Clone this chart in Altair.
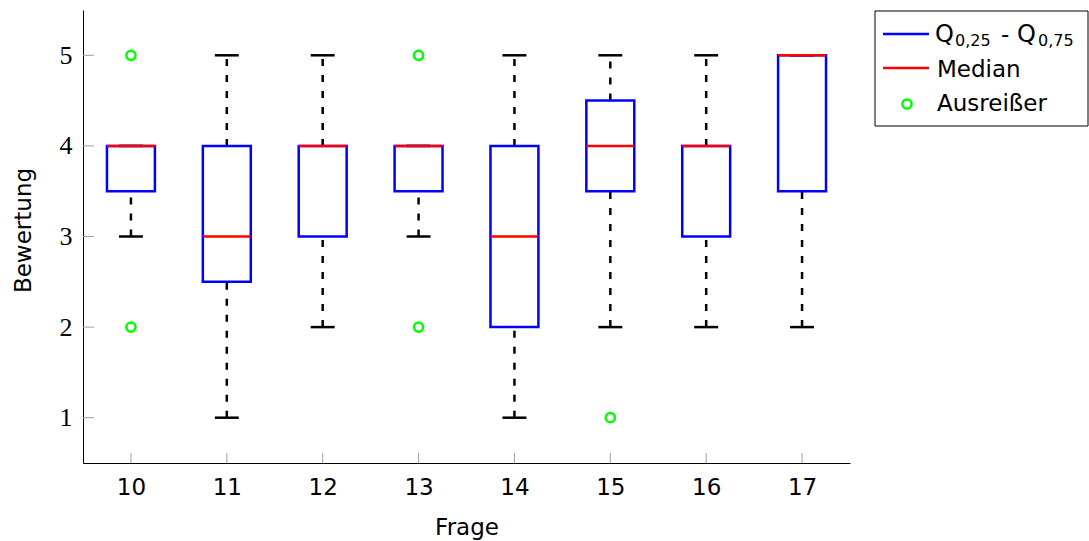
import altair as alt
import pandas as pd

# ---- data ----
frage = [10, 11, 12, 13, 14, 15, 16, 17]
q1 = [3.5, 2.5, 3, 3.5, 2, 3.5, 3, 3.5]
q3 = [4, 4, 4, 4, 4, 4.5, 4, 5]
median = [4, 3, 4, 4, 3, 4, 4, 5]
w_low = [3, 1, 2, 3, 1, 2, 2, 2]
w_high = [4, 5, 5, 4, 5, 5, 5, 5]
out_frage = [10, 10, 13, 13, 15]
out_wert = [5, 2, 5, 2, 1]
y_ticks = [1, 2, 3, 4, 5]
x_ticks = frage

BLUE, RED, GREEN = "#0000ff", "#ff0000", "#00ff00"
SANS = "DejaVu Sans"

df = pd.DataFrame(dict(frage=frage, q1=q1, q3=q3, median=median, lo=w_low, hi=w_high))
df["left"] = df["frage"] - 0.25
df["right"] = df["frage"] + 0.25
df["cl"] = df["frage"] - 0.125
df["cr"] = df["frage"] + 0.125
out = pd.DataFrame(dict(frage=out_frage, wert=out_wert))
yt = pd.DataFrame(dict(v=y_ticks))
xt = pd.DataFrame(dict(v=x_ticks))

xs = alt.Scale(domain=[9.5, 17.5], nice=False, zero=False)
ys = alt.Scale(domain=[0.5, 5.5], nice=False, zero=False)
xaxis = alt.Axis(title="Frage", values=x_ticks, format="d", grid=False, ticks=False,
                 tickSize=0, labelPadding=13, titlePadding=17,
                 labelFont=SANS, labelFontSize=23, titleFont=SANS, titleFontSize=23,
                 domainColor="black", labelColor="black", titleColor="black",
                 titleFontWeight="normal")
yaxis = alt.Axis(title="Bewertung", values=y_ticks, format="d", grid=False, ticks=False,
                 tickSize=0, labelPadding=11, titlePadding=24, titleY=220,
                 labelFont="Liberation Serif", labelFontSize=26,
                 titleFont=SANS, titleFontSize=23,
                 domainColor="black", labelColor="black", titleColor="black",
                 titleFontWeight="normal")


def X(f):
    return alt.X(f"{f}:Q", scale=xs, axis=xaxis)


def Y(f):
    return alt.Y(f"{f}:Q", scale=ys, axis=yaxis)


base = alt.Chart(df)
dash = dict(color="black", strokeWidth=2.5, strokeDash=[7, 9])
wh_lo = base.mark_rule(**dash).encode(x=X("frage"), y=Y("lo"), y2="q1:Q")
wh_hi = base.mark_rule(**dash).encode(x=X("frage"), y=Y("q3"), y2="hi:Q")
cap_lo = base.mark_rule(color="black", strokeWidth=2.5).encode(x=X("cl"), x2="cr:Q", y=Y("lo"))
cap_hi = base.mark_rule(color="black", strokeWidth=2.5).encode(x=X("cl"), x2="cr:Q", y=Y("hi"))
box = base.mark_rect(fillOpacity=0, stroke=BLUE, strokeWidth=2.5).encode(
    x=X("left"), x2="right:Q", y=Y("q1"), y2="q3:Q")
med = base.mark_rule(color=RED, strokeWidth=2.5).encode(x=X("left"), x2="right:Q", y=Y("median"))
outl = alt.Chart(out).mark_point(shape="circle", filled=False, color=GREEN, strokeWidth=2.5,
                                 size=85, opacity=1).encode(x=X("frage"), y=Y("wert"))

ytick = alt.Chart(yt).mark_rule(color="#a0a0a0", strokeWidth=1).encode(
    x=alt.value(0), x2=alt.value(11), y=Y("v"))
xtick = alt.Chart(xt).mark_rule(color="#a0a0a0", strokeWidth=1).encode(
    x=X("v"), y=alt.value(443), y2=alt.value(453))

# ---- legend (drawn by hand, to allow subscripts) ----
one = pd.DataFrame(dict(a=[0]))
L = alt.Chart(one)
leg_box = L.mark_rect(fill="white", stroke="black", strokeWidth=1).encode(
    x=alt.value(792), x2=alt.value(1005), y=alt.value(1), y2=alt.value(116))
leg_blue = L.mark_rule(color=BLUE, strokeWidth=2.5).encode(
    x=alt.value(800), x2=alt.value(846), y=alt.value(24))
leg_red = L.mark_rule(color=RED, strokeWidth=2.5).encode(
    x=alt.value(800), x2=alt.value(846), y=alt.value(58))
leg_pt = L.mark_point(shape="circle", filled=False, color=GREEN, strokeWidth=2.5, size=85,
                      opacity=1).encode(x=alt.value(824), y=alt.value(94))


def txt(s, x, y, size=23):
    return L.mark_text(align="left", baseline="alphabetic", font=SANS, fontSize=size,
                       color="black").encode(x=alt.value(x), y=alt.value(y), text=alt.value(s))


leg_txt = [
    txt("Q", 852, 32, 24), txt("0,25", 872, 36, 16), txt("-", 918, 32),
    txt("Q", 934, 32, 24), txt("0,75", 955, 36, 16),
    txt("Median", 854, 67), txt("Ausreißer", 854, 101),
]

chart = alt.layer(
    wh_lo, wh_hi, cap_lo, cap_hi, box, med, outl, ytick, xtick,
    leg_box, leg_blue, leg_red, leg_pt, *leg_txt
).properties(
    width=767, height=453,
    autosize=alt.AutoSizeParams(type="none"),
    padding={"left": 83, "top": 10, "right": 239, "bottom": 78},
    background="white",
).configure_view(stroke=None)

chart.save("out.html", embed_options={"renderer": "svg", "actions": False})
